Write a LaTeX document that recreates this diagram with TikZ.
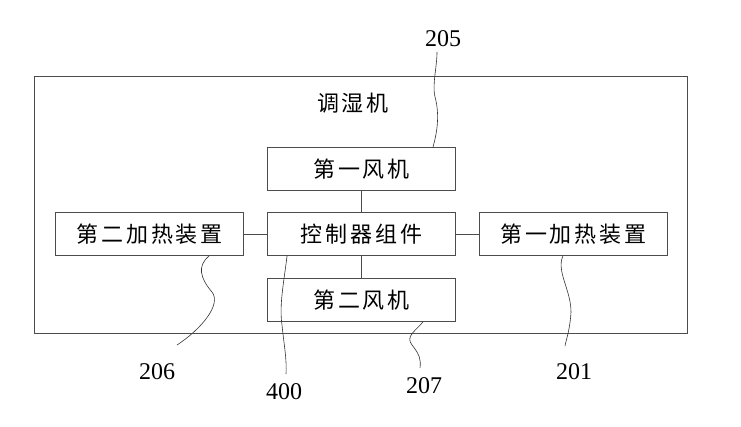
\documentclass[tikz,border=0pt]{standalone}
\usepackage{fontspec}
\setmainfont{Liberation Serif}
\newfontfamily\cjk[LetterSpace=13]{Noto Sans CJK SC}
\usetikzlibrary{positioning}
\begin{document}
\begin{tikzpicture}
    [x=1pt,y=-1pt,
     unit/.style={draw=black!70,line width=0.9pt,minimum width=188pt,minimum height=43pt,inner sep=0pt,font=\cjk\fontsize{22}{22}\selectfont},
     lead/.style={draw=black!80,line width=0.6pt},
     num/.style={font=\fontsize{24}{24}\selectfont}]
    \useasboundingbox (0,0) rectangle (741,427);
    \draw[black!70,line width=0.9pt] (34,76) rectangle (687,333);
    \node[font=\cjk\fontsize{22}{22}\selectfont] (title) at (353,103) {调湿机};
    \node[unit] (ctrl) at (361.5,234) {控制器组件};
    \node[unit,above=21pt of ctrl] (fan1) {第一风机};
    \node[unit,below=22pt of ctrl] (fan2) {第二风机};
    \node[unit,left=23pt of ctrl] (heat2) {第二加热装置};
    \node[unit,right=23pt of ctrl] (heat1) {第一加热装置};
    \draw[black!70,line width=0.9pt] (ctrl) -- (fan1);
    \draw[black!70,line width=0.9pt] (ctrl) -- (fan2);
    \draw[black!70,line width=0.9pt] (ctrl) -- (heat2);
    \draw[black!70,line width=0.9pt] (ctrl) -- (heat1);
    % reference numbers
    \node[num] (n205) at (443,39) {205};
    \node[num] (n206) at (157,372) {206};
    \node[num] (n400) at (284,392) {400};
    \node[num] (n207) at (424,386) {207};
    \node[num] (n201) at (574,372) {201};
    \coordinate (e205) at (437,52);
    \coordinate (e206) at (177,345);
    \coordinate (e400) at (286,374);
    \coordinate (e207) at (420,368);
    \coordinate (e201) at (565,346);
    \draw[lead] ([xshift=-23pt]fan1.north east) .. controls +(4,-14) and +(5,18) .. (435,97) .. controls +(-3,-12) and +(0,15) .. (e205);
    \draw[lead] ([xshift=-35pt]heat2.south east) .. controls +(-12,10) and +(-12,-14) .. (212,292) .. controls +(10,13) and +(23,-15) .. (e206);
    \draw[lead] ([xshift=20pt]ctrl.south west) .. controls +(-3,25) and +(-3,-20) .. (282,325) .. controls +(2,20) and +(1,-14) .. (e400);
    \draw[lead] ([xshift=-33pt]fan2.south east) .. controls +(-7,9) and +(-7,-9) .. (412,345) .. controls +(8,10) and +(1,-8) .. (e207);
    \draw[lead] ([xshift=84pt]heat1.south west) .. controls +(-7,15) and +(0,-22) .. (571,312) .. controls +(-1,18) and +(1,-6) .. (e201);
\end{tikzpicture}
\end{document}
